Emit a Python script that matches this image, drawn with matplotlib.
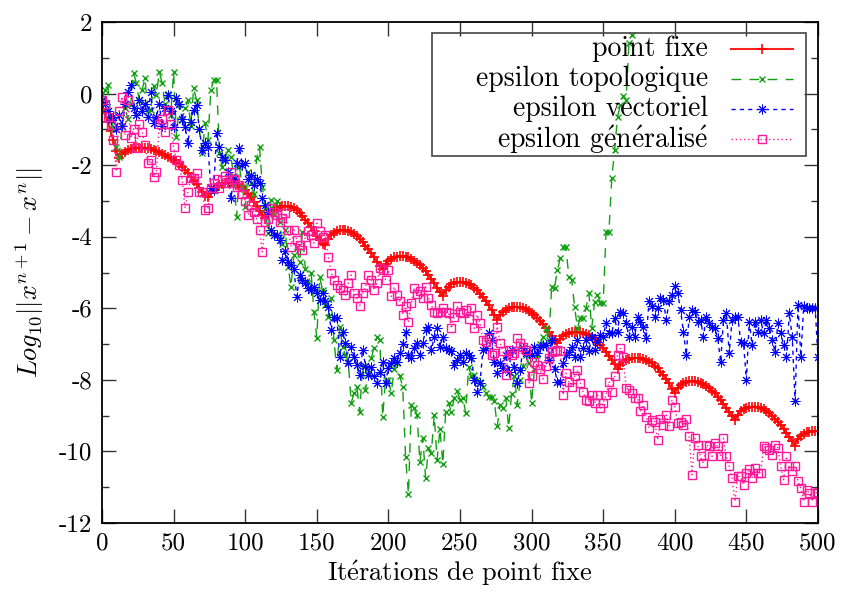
import matplotlib
matplotlib.use("Agg")
import matplotlib.pyplot as plt
from matplotlib.lines import Line2D
from matplotlib.patches import Rectangle

plt.rcParams['font.family'] = ['cmr10', 'DejaVu Serif']
plt.rcParams['mathtext.fontset'] = 'cm'
plt.rcParams['axes.unicode_minus'] = False
plt.rcParams['axes.formatter.use_mathtext'] = False

# ---------------- data ----------------
x_fixe = list(range(0, 501, 2))
y_fixe = [
    -0.3, -0.55, -0.8, -1.05, -1.3, -1.6, -1.8, -1.7, -1.62, -1.57,
    -1.54, -1.52, -1.51, -1.51, -1.51, -1.52, -1.53, -1.55, -1.58, -1.61,
    -1.64, -1.68, -1.72, -1.76, -1.8, -1.85, -1.9, -1.97, -2.05, -2.13,
    -2.22, -2.32, -2.43, -2.53, -2.65, -2.75, -2.85, -2.9, -2.78, -2.68,
    -2.6, -2.55, -2.52, -2.5, -2.49, -2.49, -2.5, -2.52, -2.56, -2.62,
    -2.7, -2.8, -2.9, -3.02, -3.13, -3.27, -3.4, -3.47, -3.38, -3.3,
    -3.25, -3.2, -3.17, -3.15, -3.14, -3.14, -3.16, -3.2, -3.26, -3.33,
    -3.42, -3.52, -3.62, -3.73, -3.85, -3.97, -4.1, -4.2, -4.24, -4.05,
    -3.95, -3.89, -3.85, -3.82, -3.81, -3.81, -3.83, -3.87, -3.92, -3.99,
    -4.07, -4.15, -4.25, -4.35, -4.46, -4.58, -4.7, -4.82, -4.9, -4.76,
    -4.67, -4.61, -4.58, -4.56, -4.55, -4.55, -4.56, -4.58, -4.62, -4.67,
    -4.73, -4.8, -4.88, -4.97, -5.07, -5.18, -5.3, -5.42, -5.55, -5.65,
    -5.5, -5.4, -5.33, -5.29, -5.27, -5.26, -5.26, -5.28, -5.31, -5.36,
    -5.42, -5.5, -5.59, -5.69, -5.8, -5.92, -6.05, -6.18, -6.32, -6.18,
    -6.1, -6.04, -6.0, -5.97, -5.96, -5.96, -5.97, -5.99, -6.02, -6.07,
    -6.12, -6.18, -6.26, -6.35, -6.45, -6.55, -6.66, -6.78, -6.9, -6.97,
    -6.85, -6.77, -6.72, -6.69, -6.67, -6.66, -6.66, -6.67, -6.69, -6.72,
    -6.76, -6.81, -6.87, -6.94, -7.02, -7.11, -7.21, -7.32, -7.44, -7.56,
    -7.7, -7.58, -7.5, -7.45, -7.42, -7.4, -7.39, -7.39, -7.4, -7.42,
    -7.45, -7.49, -7.54, -7.6, -7.68, -7.77, -7.87, -7.98, -8.1, -8.25,
    -8.37, -8.22, -8.14, -8.09, -8.06, -8.04, -8.03, -8.03, -8.05, -8.08,
    -8.12, -8.17, -8.23, -8.3, -8.38, -8.47, -8.57, -8.67, -8.78, -8.89,
    -9.0, -9.12, -8.98, -8.88, -8.82, -8.78, -8.76, -8.75, -8.75, -8.76,
    -8.78, -8.82, -8.87, -8.93, -9.0, -9.08, -9.17, -9.27, -9.37, -9.48,
    -9.59, -9.72, -9.85, -9.65, -9.56, -9.5, -9.47, -9.45, -9.44, -9.44,
    -9.44,
]

x_topo = list(range(0, 371, 2))
y_topo = [
    -0.2, 0.1, 0.25, -0.6, -1.0, -1.5, -1.77, -0.9, -0.4, -0.7,
    -0.3, 0.57, 0.3, -0.2, 0.1, 0.43, -0.5, -0.46, 0.2, -0.04,
    0.6, 0.3, -0.3, 0.0, -0.6, 0.6, -1.2, -0.3, -0.74, -0.4,
    -0.18, -0.9, 0.15, -0.18, -1.0, -1.67, -0.83, -1.3, 0.1, 0.38,
    0.38, -1.67, -2.05, -1.8, -1.58, -1.77, -2.3, -3.45, -2.05, -2.6,
    -3.17, -2.2, -2.5, -2.8, -1.8, -1.48, -2.6, -3.2, -3.9, -2.97,
    -3.4, -3.0, -3.6, -4.2, -3.8, -4.84, -5.4, -4.5, -4.3, -4.7,
    -3.87, -4.9, -5.3, -5.0, -6.1, -6.82, -5.12, -5.5, -5.9, -6.24,
    -5.7, -6.9, -7.72, -6.52, -7.08, -7.3, -7.5, -8.65, -8.37, -8.2,
    -8.9, -7.6, -8.28, -7.8, -7.4, -7.1, -6.8, -6.88, -9.03, -8.0,
    -8.0, -8.37, -7.7, -7.53, -7.9, -8.2, -10.15, -11.2, -8.7, -8.8,
    -8.98, -10.3, -9.62, -10.74, -9.9, -10.04, -8.98, -10.23, -9.37, -10.35,
    -8.9, -8.65, -8.9, -8.5, -8.3, -8.56, -8.5, -8.92, -7.64, -7.9,
    -7.86, -8.0, -8.05, -8.2, -8.37, -8.47, -8.47, -8.6, -9.3, -8.7,
    -8.78, -8.5, -9.34, -8.4, -7.9, -8.7, -8.0, -7.6, -7.3, -7.53,
    -8.65, -7.7, -7.3, -7.0, -6.8, -6.55, -6.9, -5.4, -5.43, -4.93,
    -4.6, -4.28, -4.3, -5.12, -5.2, -5.96, -6.55, -6.27, -6.27, -6.0,
    -5.57, -6.55, -5.82, -5.63, -5.85, -5.85, -3.87, -3.87, -2.36, -1.58,
    -0.65, -0.32, -0.06, -0.18, 1.42, 1.64,
]

x_vect = list(range(0, 501, 2))
y_vect = [
    -0.18, -0.3, -0.5, -0.74, -0.65, -1.0, -0.6, -0.9, -0.3, 0.04,
    0.24, -0.4, -0.6, -0.18, -0.5, -0.3, -0.65, 0.04, -0.82, -0.65,
    -0.3, -0.9, -0.4, -0.04, -0.5, -0.93, -0.12, -0.3, -0.7, -0.93,
    -1.38, -0.8, -0.46, -0.32, -1.0, -1.58, -1.38, -1.48, -2.64, -2.7,
    -1.1, -1.5, -1.77, -1.86, -2.2, -2.92, -2.4, -1.95, -1.52, -2.0,
    -1.95, -2.4, -2.27, -2.55, -2.4, -2.5, -2.92, -3.1, -3.3, -3.8,
    -3.95, -3.95, -4.1, -4.65, -4.4, -4.7, -4.8, -4.9, -5.68, -5.07,
    -5.2, -5.3, -5.43, -5.5, -5.4, -5.57, -5.77, -5.57, -5.8, -5.96,
    -6.6, -6.24, -6.27, -7.35, -6.66, -6.97, -7.53, -7.08, -7.35, -7.58,
    -7.86, -7.16, -7.6, -7.86, -7.64, -7.9, -8.08, -7.78, -7.5, -8.08,
    -7.67, -7.53, -7.4, -7.5, -7.25, -7.0, -6.66, -7.3, -7.38, -7.1,
    -6.97, -7.3, -6.97, -6.6, -6.52, -7.16, -6.8, -6.55, -7.08, -6.8,
    -7.1, -7.16, -7.2, -7.58, -7.44, -7.3, -7.5, -7.25, -7.3, -7.38,
    -8.0, -8.33, -8.08, -7.16, -7.1, -6.7, -6.88, -7.5, -7.8, -7.53,
    -7.67, -7.3, -7.78, -7.16, -7.64, -8.08, -7.72, -7.1, -7.25, -7.25,
    -7.3, -7.08, -7.25, -7.08, -7.02, -7.02, -7.44, -6.88, -7.7, -8.05,
    -8.05, -7.53, -7.3, -7.22, -7.08, -7.35, -6.88, -7.35, -7.1, -6.88,
    -7.2, -6.8, -7.16, -6.94, -6.75, -6.8, -6.4, -6.7, -6.7, -6.27,
    -6.65, -6.09, -6.13, -6.42, -6.79, -6.51, -6.79, -6.23, -6.37, -6.51,
    -6.84, -5.81, -5.95, -6.23, -6.0, -5.72, -5.77, -6.32, -5.81, -5.63,
    -5.39, -5.58, -6.04, -6.65, -7.3, -6.23, -6.04, -6.09, -6.37, -6.32,
    -6.79, -6.23, -6.42, -6.51, -6.56, -6.84, -7.5, -6.32, -6.14, -7.25,
    -6.32, -6.23, -6.23, -6.94, -6.98, -8.0, -6.37, -7.02, -6.37, -6.65,
    -6.32, -6.7, -6.32, -6.56, -6.88, -7.21, -6.42, -6.7, -7.02, -7.35,
    -6.14, -6.79, -8.6, -5.91, -7.35, -5.95, -6.0, -6.0, -6.0, -6.0,
    -7.35,
]

x_gen = list(range(0, 501, 2))
y_gen = [
    -0.18, -0.3, -0.65, -0.88, -1.3, -2.18, -0.5, -0.09, -1.16, -0.18,
    -1.25, -0.98, -1.53, -0.84, -1.07, -1.44, -1.95, -1.86, -2.32, -2.18,
    -0.84, -0.7, -1.07, -0.46, -0.84, -1.5, -1.86, -2.0, -2.41, -3.2,
    -2.74, -2.36, -2.36, -2.23, -2.74, -2.74, -3.25, -3.2, -2.65, -2.5,
    -2.4, -2.65, -2.41, -2.3, -2.5, -2.18, -2.4, -2.6, -2.55, -2.8,
    -3.0, -3.39, -3.1, -3.3, -3.5, -3.81, -4.42, -3.6, -3.5, -3.2,
    -3.3, -3.4, -3.6, -3.48, -3.34, -3.81, -4.28, -3.81, -4.09, -4.23,
    -4.37, -4.0, -3.85, -3.94, -4.18, -3.62, -3.85, -4.0, -3.94, -4.56,
    -5.0, -5.21, -5.35, -5.44, -5.49, -5.63, -5.3, -5.07, -5.58, -5.72,
    -5.93, -5.58, -5.4, -5.07, -5.2, -5.49, -5.3, -4.88, -4.93, -5.2,
    -4.93, -5.67, -5.4, -5.63, -5.8, -6.18, -5.95, -6.37, -5.86, -5.44,
    -5.6, -5.53, -5.7, -5.4, -5.7, -5.91, -6.09, -6.14, -6.09, -6.0,
    -6.09, -6.14, -6.56, -6.23, -5.95, -6.1, -6.14, -6.04, -6.3, -6.0,
    -6.56, -6.18, -6.42, -6.88, -6.93, -6.84, -7.3, -7.25, -6.51, -6.97,
    -7.2, -7.86, -7.16, -7.3, -7.25, -6.84, -6.98, -7.07, -7.16, -8.1,
    -7.9, -7.5, -7.58, -7.7, -7.98, -7.6, -7.4, -7.21, -7.2, -7.16,
    -7.2, -8.42, -7.81, -8.05, -8.19, -7.9, -7.72, -8.1, -8.33, -8.56,
    -8.6, -8.42, -8.65, -8.42, -8.79, -8.65, -8.42, -8.05, -8.33, -7.9,
    -7.3, -7.12, -7.35, -8.23, -8.28, -8.37, -8.51, -8.51, -8.88, -8.7,
    -9.03, -9.35, -9.12, -9.17, -9.68, -9.08, -9.26, -8.98, -9.3, -8.56,
    -8.75, -9.21, -9.17, -9.26, -9.08, -9.58, -10.65, -9.63, -9.82, -10.14,
    -10.33, -9.82, -9.86, -10.14, -9.77, -9.86, -10.14, -9.63, -10.14, -10.42,
    -10.75, -11.4, -10.7, -10.7, -10.93, -10.6, -10.5, -10.75, -10.47, -10.6,
    -10.6, -9.86, -9.9, -9.96, -10.1, -9.82, -9.9, -10.42, -10.79, -10.14,
    -10.42, -10.56, -10.42, -10.84, -11.03, -11.4, -11.07, -11.17, -11.4, -11.17,
    -11.13,
]

E_ACUTE = r"$\mathrm{\acute{e}}$"
series_labels = ["point fixe", "epsilon topologique", "epsilon vectoriel",
                 "epsilon g" + E_ACUTE + "n" + E_ACUTE + "ralis" + E_ACUTE]
x_ticks = [0, 50, 100, 150, 200, 250, 300, 350, 400, 450, 500]
x_ticklabels = ["0", "50", "100", "150", "200", "250", "300", "350", "400",
                "450", "500"]
y_ticks = [-12, -10, -8, -6, -4, -2, 0, 2]
y_ticklabels = ["-12", "-10", "-8", "-6", "-4", "-2", "0", "2"]
y_minor = [-11, -9, -7, -5, -3, -1, 1]
x_title = "It" + E_ACUTE + "rations de point fixe"
y_title = r"$Log_{10}||x^{n+1}-x^{n}||$"

# ---------------- styles ----------------
C_RED = "#ff2020"
C_GREEN = "#12a012"
C_BLUE = "#0000ff"
C_MAG = "#ff1a9a"

styles = [
    dict(color=C_RED, ls="-", lw=1.5, marker="+", ms=7, mew=1.2, mfc=C_RED, mec="#ff0000"),
    dict(color=C_GREEN, ls=(0, (7, 6)), lw=1.0, marker="x", ms=4.5, mew=1.0, mec=C_GREEN),
    dict(color=C_BLUE, ls=(0, (3, 3)), lw=1.0, marker=(8, 2, 0), ms=7, mew=0.7, mec=C_BLUE),
    dict(color=C_MAG, ls=(0, (1, 2)), lw=1.0, marker="s", ms=6, mew=1.0, mfc="none", mec=C_MAG),
]

fig = plt.figure(figsize=(8.42, 5.93), dpi=100)
ax = fig.add_axes([102 / 842, 70 / 593, 716 / 842, 501 / 593])

datasets = [(x_fixe, y_fixe), (x_topo, y_topo), (x_vect, y_vect), (x_gen, y_gen)]
for (xs, ys), st in zip(datasets, styles):
    ax.plot(xs, ys, **st)

ax.set_xlim(0, 500)
ax.set_ylim(-12, 2)
ax.set_xticks(x_ticks)
ax.set_xticklabels(x_ticklabels)
ax.set_yticks(y_ticks)
ax.set_yticklabels(y_ticklabels)
ax.set_yticks(y_minor, minor=True)
ax.tick_params(which="both", direction="in", top=True, right=True,
               labelsize=18, color="#333333", width=1.0)
ax.tick_params(which="major", length=10, pad=7)
ax.tick_params(which="minor", length=5)
for sp in ax.spines.values():
    sp.set_linewidth(1.3)
    sp.set_color("black")

ax.set_xlabel(x_title, fontsize=19, labelpad=3)
ax.set_ylabel(y_title, fontsize=19, labelpad=9)

# ---------------- legend (gnuplot style: right-aligned text, sample at right) ----------------
L, R, T, B = 0.461, 0.983, 0.978, 0.7325
ax.add_patch(Rectangle((L, B), R - L, T - B, transform=ax.transAxes,
                       fill=False, ec="#444444", lw=1.2, zorder=5))
rows = [0.946, 0.886, 0.826, 0.766]
for lab, st, yy in zip(series_labels, styles, rows):
    ax.text(0.8464, yy, lab, transform=ax.transAxes, ha="right", va="center",
            fontsize=20, zorder=6)
    line_st = {k: v for k, v in st.items() if k not in ("marker", "ms", "mew", "mfc", "mec")}
    ax.add_line(Line2D([0.8785, 0.965], [yy, yy], transform=ax.transAxes, **line_st))
    mk_st = {k: v for k, v in st.items() if k in ("marker", "ms", "mew", "mfc", "mec")}
    ax.add_line(Line2D([0.9218], [yy], transform=ax.transAxes, ls="none",
                       color=st["color"], **mk_st))

fig.savefig("out.png", dpi=100)
